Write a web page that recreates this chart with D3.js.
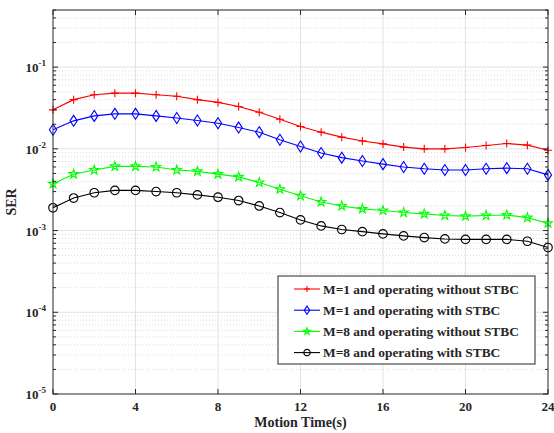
<!DOCTYPE html>
<html>
<head>
<meta charset="utf-8">
<script src="https://d3js.org/d3.v7.min.js"></script>
<style>
 body { margin: 0; background: #fff; }
 text { font-family: "Liberation Serif", "Times New Roman", serif; font-weight: bold; fill: #262626; }
</style>
</head>
<body>
<div id="graph"></div>
<script>
// chart values
var time = d3.range(0, 25);
var serM1NoStbc = [0.030, 0.040, 0.046, 0.048, 0.048, 0.046, 0.044, 0.040, 0.037, 0.033, 0.028, 0.023, 0.0188,
  0.016, 0.0139, 0.0125, 0.0115, 0.0105, 0.0100, 0.0100, 0.0104, 0.0110, 0.0116, 0.0111, 0.0096];
var serM1Stbc = [0.0171, 0.022, 0.0253, 0.0268, 0.0268, 0.0253, 0.0238, 0.0222, 0.0206, 0.0182, 0.016, 0.0129, 0.0107,
  0.0089, 0.0078, 0.0071, 0.0065, 0.0060, 0.0057, 0.0055, 0.0055, 0.0057, 0.0058, 0.0057, 0.0048];
var serM8NoStbc = [0.00373, 0.0049, 0.0055, 0.0061, 0.0061, 0.0060, 0.0055, 0.0053, 0.0049, 0.00454, 0.00387, 0.0032, 0.00266,
  0.00224, 0.0020, 0.00184, 0.00176, 0.00166, 0.0016, 0.00153, 0.0015, 0.00153, 0.00155, 0.00144, 0.00123];
var serM8Stbc = [0.0019, 0.0025, 0.0029, 0.0031, 0.0031, 0.0030, 0.0029, 0.00273, 0.00256, 0.00233, 0.0020, 0.00166, 0.00135,
  0.00114, 0.00103, 0.00097, 0.00091, 0.00086, 0.00082, 0.00079, 0.00078, 0.00078, 0.00078, 0.00074, 0.00062];
var seriesNames = ["M=1 and operating without STBC", "M=1 and operating with STBC",
  "M=8 and operating without STBC", "M=8 and operating with STBC"];
var xTicks = [0, 4, 8, 12, 16, 20, 24];
var yDecades = [-5, -4, -3, -2, -1];

var series = [
  { name: seriesNames[0], values: serM1NoStbc, color: "#ff0000", marker: "plus" },
  { name: seriesNames[1], values: serM1Stbc, color: "#0000ff", marker: "diamond" },
  { name: seriesNames[2], values: serM8NoStbc, color: "#00ff00", marker: "star" },
  { name: seriesNames[3], values: serM8Stbc, color: "#000000", marker: "circle" }
];

var W = 554, H = 433;
var margin = { top: 10, right: 6, bottom: 39, left: 53 };
var width = W - margin.left - margin.right;
var height = H - margin.top - margin.bottom;

var svg = d3.select("#graph").append("svg")
  .attr("width", W).attr("height", H)
  .append("g")
  .attr("transform", "translate(" + margin.left + "," + margin.top + ")");

var x = d3.scaleLinear().domain([0, 24]).range([0, width]);
var y = d3.scaleLog().domain([1e-5, 0.5]).range([height, 0]);

// minor values for log axis
var minor = [];
yDecades.forEach(function(e) {
  for (var k = 2; k <= 9; k++) {
    var v = k * Math.pow(10, e);
    if (v <= 0.5) minor.push(v);
  }
});

// grid
svg.append("g").selectAll("line").data(minor).enter().append("line")
  .attr("x1", 0).attr("x2", width)
  .attr("y1", function(d) { return y(d); }).attr("y2", function(d) { return y(d); })
  .attr("stroke", "#d4d4d4").attr("stroke-width", 0.8).attr("stroke-dasharray", "1,2");
svg.append("g").selectAll("line").data(yDecades.slice(1)).enter().append("line")
  .attr("x1", 0).attr("x2", width)
  .attr("y1", function(d) { return y(Math.pow(10, d)); }).attr("y2", function(d) { return y(Math.pow(10, d)); })
  .attr("stroke", "#e3e3e3").attr("stroke-width", 1);
svg.append("g").selectAll("line").data(xTicks.slice(1, -1)).enter().append("line")
  .attr("y1", 0).attr("y2", height)
  .attr("x1", function(d) { return x(d); }).attr("x2", function(d) { return x(d); })
  .attr("stroke", "#e3e3e3").attr("stroke-width", 1);

// lines
var line = d3.line()
  .x(function(d, i) { return x(time[i]); })
  .y(function(d) { return y(d); });

function drawMarker(g, type, color, k) {
  if (type === "plus") {
    g.append("path").attr("d", "M" + (-4 * k) + ",0H" + (4 * k) + "M0," + (-4 * k) + "V" + (4 * k))
      .attr("stroke", color).attr("stroke-width", 1.1).attr("fill", "none");
  } else if (type === "diamond") {
    g.append("path").attr("d", "M0," + (-5.5 * k) + "L" + (3.6 * k) + ",0L0," + (5.5 * k) + "L" + (-3.6 * k) + ",0Z")
      .attr("stroke", color).attr("stroke-width", 1.1).attr("fill", "none");
  } else if (type === "star") {
    g.append("path").attr("d", d3.symbol().type(d3.symbolStar).size(26 * k * k)())
      .attr("stroke", color).attr("stroke-width", 1.1).attr("fill", "none");
  } else {
    g.append("circle").attr("r", 4.3 * k).attr("stroke", color).attr("stroke-width", 1.1).attr("fill", "none");
  }
}

series.forEach(function(s) {
  svg.append("path").datum(s.values)
    .attr("fill", "none").attr("stroke", s.color).attr("stroke-width", 1.1)
    .attr("d", line);
});

series.forEach(function(s) {
  s.values.forEach(function(v, i) {
    var g = svg.append("g").attr("transform", "translate(" + x(time[i]) + "," + y(v) + ")");
    drawMarker(g, s.marker, s.color, 1);
  });
});

// axis box and inward ticks
svg.append("rect").attr("width", width).attr("height", height)
  .attr("fill", "none").attr("stroke", "#262626").attr("stroke-width", 1);

xTicks.forEach(function(t) {
  svg.append("line").attr("x1", x(t)).attr("x2", x(t)).attr("y1", height).attr("y2", height - 5)
    .attr("stroke", "#262626");
  svg.append("line").attr("x1", x(t)).attr("x2", x(t)).attr("y1", 0).attr("y2", 5)
    .attr("stroke", "#262626");
  svg.append("text").attr("x", x(t)).attr("y", height + 17)
    .attr("text-anchor", "middle").style("font-size", "13px").text(t);
});

yDecades.forEach(function(e) {
  var yy = y(Math.pow(10, e));
  svg.append("line").attr("x1", 0).attr("x2", 5).attr("y1", yy).attr("y2", yy).attr("stroke", "#262626");
  svg.append("line").attr("x1", width).attr("x2", width - 5).attr("y1", yy).attr("y2", yy).attr("stroke", "#262626");
  var t = svg.append("text").attr("x", -7).attr("y", yy + 5)
    .attr("text-anchor", "end").style("font-size", "13px");
  t.append("tspan").text("10");
  t.append("tspan").attr("dy", -6).style("font-size", "9px").text(e);
});

minor.forEach(function(v) {
  var yy = y(v);
  svg.append("line").attr("x1", 0).attr("x2", 3).attr("y1", yy).attr("y2", yy).attr("stroke", "#262626");
  svg.append("line").attr("x1", width).attr("x2", width - 3).attr("y1", yy).attr("y2", yy).attr("stroke", "#262626");
});

// axis labels
svg.append("text").attr("x", width / 2).attr("y", height + 33)
  .attr("text-anchor", "middle").style("font-size", "14px").text("Motion Time(s)");
svg.append("text").attr("transform", "rotate(-90)")
  .attr("x", -height / 2).attr("y", -37)
  .attr("text-anchor", "middle").style("font-size", "14px").text("SER");

// legend
var lx = 225, ly = 266, lw = 257, lh = 88;
var legend = svg.append("g").attr("transform", "translate(" + lx + "," + ly + ")");
legend.append("rect").attr("width", lw).attr("height", lh)
  .attr("fill", "#fff").attr("stroke", "#262626").attr("stroke-width", 1);
series.forEach(function(s, i) {
  var yy = 13 + i * 21.2;
  legend.append("line").attr("x1", 16).attr("x2", 42).attr("y1", yy).attr("y2", yy)
    .attr("stroke", s.color).attr("stroke-width", 1.1);
  var g = legend.append("g").attr("transform", "translate(29," + yy + ")");
  drawMarker(g, s.marker, s.color, 0.75);
  legend.append("text").attr("x", 45).attr("y", yy + 4.5)
    .style("font-size", "13.4px").text(s.name);
});
</script>
</body>
</html>
